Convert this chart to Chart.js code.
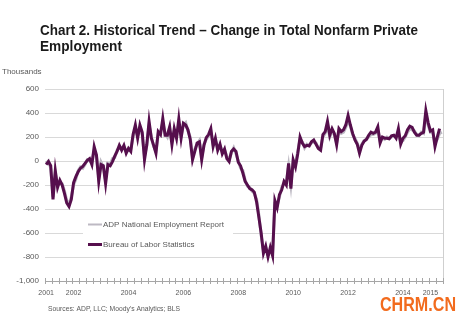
<!DOCTYPE html>
<html>
<head>
<meta charset="utf-8">
<script src="https://cdn.jsdelivr.net/npm/chart.js@4/dist/chart.umd.min.js"></script>
<style>
  html, body { margin: 0; padding: 0; background: #fff; }
  canvas { display: block; }
</style>
</head>
<body>
<canvas id="chart" width="468" height="321"></canvas>
<script>
// Data (thousands, monthly, Jan 2001 - Jun 2015)
const years = [2001, 2002, 2003, 2004, 2005, 2006, 2007, 2008, 2009, 2010, 2011, 2012, 2013, 2014, 2015];
const monthsInLastYear = 6;
const tickYears = ["2001", "2002", "2004", "2006", "2008", "2010", "2012", "2014", "2015"];
const yTicks = [600, 400, 200, 0, -200, -400, -600, -800, -1000];

const seriesNames = ["ADP National Employment Report", "Bureau of Labor Statistics"];

const adp = [
  -20, 0, -60, -300, -100, -200, -180, -190, -250, -330, -360, -300,   // 2001
  -200, -150, -80, -50, -60, -30, 10, 0, -10, 90, 40, -140,            // 2002
  -10, -50, -160, -20, -30, 20, 30, 90, 110, 100, 120, 80,             // 2003
  90, 100, 200, 280, 210, 270, 220, 40, 130, 300, 200, 120,            // 2004
  80, 230, 240, 320, 230, 200, 270, 160, 250, 200, 320, 210,           // 2005
  300, 320, 250, 200, 30, 100, 140, 170, 30, 140, 180, 210,            // 2006
  250, 140, 170, 110, 130, 80, 90, 40, 10, 70, 110, 60,                // 2007
  0, -60, -80, -160, -210, -220, -250, -270, -320, -450, -620, -740,   // 2008
  -720, -780, -740, -760, -360, -370, -300, -220, -190, -180, -40, -200, // 2009
  0, -30, 80, 180, 160, 110, 140, 130, 150, 160, 150, 110,             // 2010
  110, 200, 230, 300, 200, 250, 220, 150, 250, 230, 240, 280,          // 2011
  340, 290, 220, 190, 150, 90, 140, 170, 180, 200, 220, 220,           // 2012
  230, 260, 170, 190, 180, 200, 190, 200, 210, 200, 240, 160,          // 2013
  170, 200, 240, 270, 260, 250, 220, 210, 240, 230, 380, 300,          // 2014
  240, 240, 150, 180, 230, 240                                         // 2015
];

const bls = [
  -30, -5, -40, -320, -80, -220, -160, -200, -270, -350, -380, -320,   // 2001
  -180, -130, -90, -60, -45, -20, 5, 20, -30, 120, 50, -170,           // 2002
  -30, -40, -190, -30, -40, -5, 40, 80, 130, 90, 130, 65,              // 2003
  105, 80, 220, 300, 190, 300, 240, 10, 135, 330, 190, 130,            // 2004
  65, 245, 220, 355, 215, 215, 285, 135, 270, 190, 350, 190,           // 2005
  315, 300, 260, 180, 10, 80, 150, 160, 10, 130, 195, 220,             // 2006
  270, 120, 190, 90, 140, 60, 100, 20, -5, 80, 100, 80,                // 2007
  -10, -40, -100, -170, -200, -230, -240, -260, -340, -470, -600, -770, // 2008
  -710, -800, -720, -790, -330, -390, -280, -240, -170, -200, -20, -230, // 2009
  10, -50, 60, 200, 150, 120, 130, 125, 160, 175, 140, 105,            // 2010
  90, 220, 245, 330, 215, 270, 230, 135, 270, 245, 260, 300,           // 2011
  380, 300, 230, 175, 140, 65, 130, 165, 180, 215, 240, 230,           // 2012
  240, 285, 150, 200, 190, 190, 185, 210, 215, 190, 270, 140,          // 2013
  190, 210, 260, 290, 280, 240, 215, 215, 230, 240, 420, 320,          // 2014
  250, 260, 120, 200, 270, null                                        // 2015
];

// month categories "YYYY-MM"
const categories = [];
years.forEach((y, yi) => {
  const n = yi === years.length - 1 ? monthsInLastYear : 12;
  for (let m = 1; m <= n; m++) categories.push(y + "-" + String(m).padStart(2, "0"));
});

const FONT = "'Liberation Sans', Arial, sans-serif";
const GREY_TEXT = "#595959";
const ADP_COLOR = "#bdb9c3";
const BLS_COLOR = "#560f4d";

// Draws title, notes, legend box, axis tick crosses and frame
const decorPlugin = {
  id: "decor",
  beforeDraw(chart) {
    const ctx = chart.ctx;
    ctx.save();
    ctx.fillStyle = "#fff";
    ctx.fillRect(0, 0, chart.width, chart.height);
    ctx.restore();
  },
  afterDraw(chart) {
    const ctx = chart.ctx;
    const area = chart.chartArea;
    ctx.save();

    // right frame line
    ctx.strokeStyle = "#cfcfcf";
    ctx.lineWidth = 1;
    ctx.beginPath();
    ctx.moveTo(Math.round(area.right) + 0.5, area.top);
    ctx.lineTo(Math.round(area.right) + 0.5, area.bottom);
    ctx.stroke();

    // quarterly tick crosses on the bottom axis
    const step = (area.right - area.left) / categories.length;
    ctx.strokeStyle = "#a6a6a6";
    ctx.beginPath();
    for (let k = 0; k <= categories.length; k += 3) {
      const x = Math.round(area.left + k * step) + 0.5;
      ctx.moveTo(x, area.bottom - 3);
      ctx.lineTo(x, area.bottom + 3);
    }
    ctx.stroke();

    // legend box inside plot
    ctx.fillStyle = "#fff";
    ctx.fillRect(83, 212, 150, 42);
    const ds = chart.data.datasets;
    const rows = [224, 244];
    ds.forEach((d, i) => {
      ctx.strokeStyle = d.borderColor;
      ctx.lineWidth = i === 0 ? 2 : 3;
      ctx.beginPath();
      ctx.moveTo(88, rows[i] + 0.5);
      ctx.lineTo(102, rows[i] + 0.5);
      ctx.stroke();
      ctx.fillStyle = GREY_TEXT;
      ctx.font = "8px " + FONT;
      ctx.textBaseline = "middle";
      ctx.fillText(d.label, 103, rows[i] + 0.5, i === 0 ? 123 : 92);
    });

    // title
    ctx.fillStyle = "#1a1a1a";
    ctx.textBaseline = "alphabetic";
    ctx.font = "bold 14px " + FONT;
    ctx.fillText("Chart 2. Historical Trend \u2013 Change in Total Nonfarm Private", 40, 35, 378);
    ctx.fillText("Employment", 40, 51, 82);

    // unit label
    ctx.fillStyle = GREY_TEXT;
    ctx.font = "8px " + FONT;
    ctx.fillText("Thousands", 2, 74, 41);

    // source
    ctx.font = "7px " + FONT;
    ctx.fillText("Sources: ADP, LLC; Moody's Analytics; BLS", 48, 311, 132);

    // watermark
    ctx.fillStyle = "#fff";
    ctx.fillRect(376, 295, 86, 20);
    ctx.fillStyle = "#f26b1d";
    ctx.font = "bold 20px " + FONT;
    ctx.fillText("CHRM.CN", 380, 311, 76);

    ctx.restore();
  }
};

const ctx = document.getElementById("chart").getContext("2d");
const chart = new Chart(ctx, {
  type: "line",
  data: {
    labels: categories,
    datasets: [
      {
        label: seriesNames[0],
        data: adp,
        borderColor: ADP_COLOR,
        borderWidth: 3,
        pointRadius: 0,
        tension: 0,
        order: 2
      },
      {
        label: seriesNames[1],
        data: bls,
        borderColor: BLS_COLOR,
        borderWidth: 3,
        pointRadius: 0,
        tension: 0,
        order: 1
      }
    ]
  },
  options: {
    responsive: false,
    animation: false,
    devicePixelRatio: 1,
    layout: { padding: { top: 89, right: 25, left: 0, bottom: 0 } },
    plugins: {
      legend: { display: false },
      title: { display: false },
      tooltip: { enabled: false }
    },
    scales: {
      x: {
        type: "category",
        offset: true,
        grid: { display: false, drawTicks: false },
        border: { display: true, color: "#a6a6a6", width: 1 },
        ticks: {
          autoSkip: false,
          maxRotation: 0,
          minRotation: 0,
          padding: 8,
          color: GREY_TEXT,
          font: { family: FONT, size: 7 },
          callback: function (value, index) {
            const c = categories[index];
            if (c.endsWith("-01") && tickYears.includes(c.slice(0, 4))) return c.slice(0, 4);
            return "";
          }
        },
        afterFit: (scale) => { scale.height = 40; }
      },
      y: {
        min: yTicks[yTicks.length - 1],
        max: yTicks[0],
        afterBuildTicks: (scale) => { scale.ticks = yTicks.map(v => ({ value: v })); },
        grid: { color: "#d9d9d9", lineWidth: 1, drawTicks: false },
        border: { display: false },
        ticks: {
          padding: 6,
          color: GREY_TEXT,
          font: { family: FONT, size: 8 },
          callback: (v) => v.toLocaleString("en-US")
        },
        afterFit: (scale) => { scale.width = 45; }
      }
    }
  },
  plugins: [decorPlugin]
});
</script>
</body>
</html>
